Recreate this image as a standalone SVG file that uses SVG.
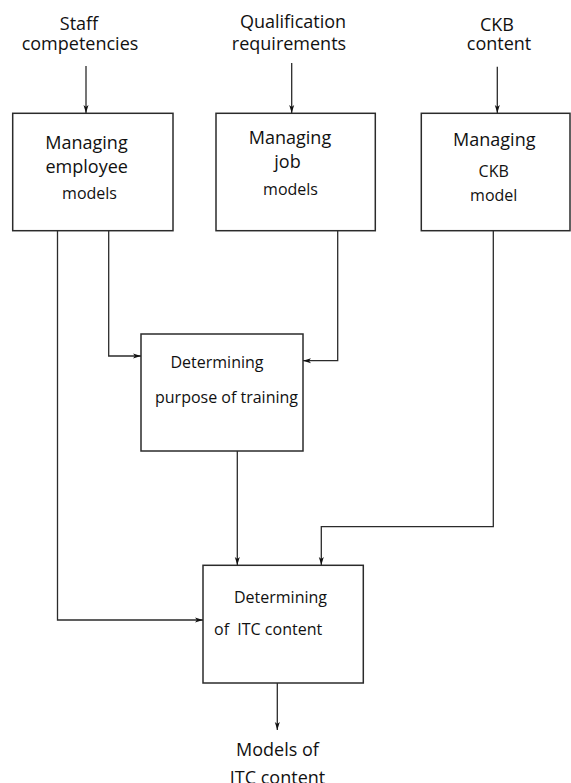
<svg xmlns="http://www.w3.org/2000/svg" width="571" height="783" viewBox="0 0 571 783">
<defs>
<style>
.box{fill:#fff;stroke:#2b2b2b;stroke-width:1.5}
.ln{fill:none;stroke:#2b2b2b;stroke-width:1.3;marker-end:url(#ah)}
.t{font-family:"Open Sans","Noto Sans",sans-serif;font-size:18px;fill:#111;text-anchor:middle}
.s{font-size:16px}
</style>
<marker id="ah" viewBox="0 0 8 6" refX="8" refY="3" markerWidth="8" markerHeight="6" markerUnits="userSpaceOnUse" orient="auto">
<path d="M0,0.5 L8,3 L0,5.5 L2,3 z" fill="#111"/>
</marker>
</defs>
<rect width="571" height="783" fill="#fff"/>
<g id="in1"><text class="t" x="79" y="30">Staff</text><text class="t" x="80" y="50">competencies</text></g>
<g id="in2"><text class="t" x="293" y="28">Qualification</text><text class="t" x="289" y="50">requirements</text></g>
<g id="in3"><text class="t" x="497" y="31">CKB</text><text class="t" x="499" y="50">content</text></g>
<g id="n1"><rect class="box" x="12.7" y="113.3" width="160.3" height="117.4"/>
<text class="t" x="86.5" y="149">Managing</text><text class="t" x="86.7" y="173">employee</text><text class="t s" x="89.5" y="199">models</text></g>
<g id="n2"><rect class="box" x="216" y="113.3" width="159.3" height="117.4"/>
<text class="t" x="290" y="144">Managing</text><text class="t" x="287.5" y="168">job</text><text class="t s" x="290.5" y="195">models</text></g>
<g id="n3"><rect class="box" x="421.3" y="113.3" width="148.7" height="117.4"/>
<text class="t" x="494.3" y="146">Managing</text><text class="t s" x="493.7" y="177">CKB</text><text class="t s" x="493.7" y="201">model</text></g>
<g id="n4"><rect class="box" x="141" y="334" width="162" height="117"/>
<text class="t s" x="217" y="368">Determining</text><text class="t s" x="226.5" y="403">purpose of training</text></g>
<g id="n5"><rect class="box" x="203" y="565.3" width="160.3" height="117.7"/>
<text class="t s" x="280.5" y="603">Determining</text><text class="t s" x="214" y="635" style="text-anchor:start" xml:space="preserve">of  ITC content</text></g>
<g id="out"><text class="t" x="277.5" y="756">Models  of</text><text class="t" x="277.5" y="784" xml:space="preserve">ITC content</text></g>
<g id="connectors">
<path class="ln" d="M86,66 V113"/>
<path class="ln" d="M291.7,63 V113"/>
<path class="ln" d="M497.3,66.7 V113"/>
<path class="ln" d="M108.7,231 V356 H141"/>
<path class="ln" d="M337.7,231 V360.7 H303"/>
<path class="ln" d="M57.5,231 V620 H203"/>
<path class="ln" d="M237.3,451 V565"/>
<path class="ln" d="M493.3,231 V526.7 H321.3 V565"/>
<path class="ln" d="M277.3,683 V730"/>
</g>
</svg>
